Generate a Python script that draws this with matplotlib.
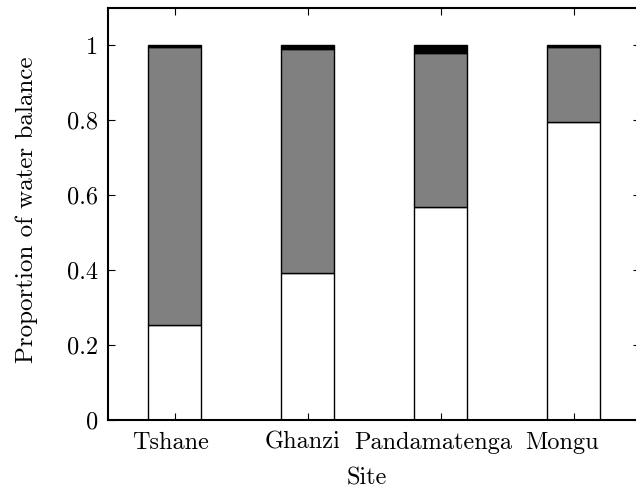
import matplotlib
matplotlib.use("Agg")
import matplotlib.pyplot as plt
import matplotlib.transforms as mtransforms
import numpy as np

# Water balance partition per site (fractions of total)
sites = ["Tshane", "Ghanzi", "Pandamatenga", "Mongu"]
bar_pos = [1, 3, 5, 7]          # slots holding a site
gap_pos = [2, 4, 6]             # empty slots between sites
part_white = [0.253, 0.393, 0.569, 0.795]
part_grey = [0.742, 0.597, 0.411, 0.201]
part_black = [0.005, 0.010, 0.020, 0.004]
gap_values = [0, 0, 0]

# where each site name sits along the x axis
label_x = [0.94, 2.92, 4.89, 6.83]

plt.rcParams["font.family"] = ["cmr10", "DejaVu Serif"]
plt.rcParams["mathtext.fontset"] = "cm"

fig = plt.figure(figsize=(6.36, 4.93), dpi=100)
ax = fig.add_axes([108 / 636, 73 / 493, 532 / 636, 412 / 493])

w = 0.8
kw = dict(width=w, edgecolor="black", linewidth=1.0)
white = np.array(part_white)
grey = np.array(part_grey)
black = np.array(part_black)
ax.bar(bar_pos, white, color="white", **kw)
ax.bar(bar_pos, grey, bottom=white, color="#808080", **kw)
ax.bar(bar_pos, black, bottom=white + grey, color="black", **kw)
ax.bar(gap_pos, gap_values, color="white", **kw)

ax.set_xlim(0, 8)
ax.set_ylim(0, 1.1)

ax.set_yticks([0, 0.2, 0.4, 0.6, 0.8, 1.0])
ax.set_yticklabels(["0", "0.2", "0.4", "0.6", "0.8", "1"], fontsize=17.5)
ax.set_xticks(bar_pos)
ax.set_xticklabels([""] * len(bar_pos))
ax.tick_params(axis="both", direction="in", length=5, width=0.8,
               top=True, right=True, pad=7)

trans = mtransforms.blended_transform_factory(ax.transData, ax.transAxes)
for name, x in zip(sites, label_x):
    ax.text(x, -0.055, name, transform=trans, ha="center", va="center",
            fontsize=17.5)

fig.text(367 / 636, 1 - 478 / 493, "Site", ha="center", va="center", fontsize=17.5)
fig.text(27 / 636, 1 - 210 / 493, "Proportion of water balance", rotation=90,
         ha="center", va="center", fontsize=18)

for s in ax.spines.values():
    s.set_linewidth(1.5)

fig.savefig("out.png", dpi=100)
